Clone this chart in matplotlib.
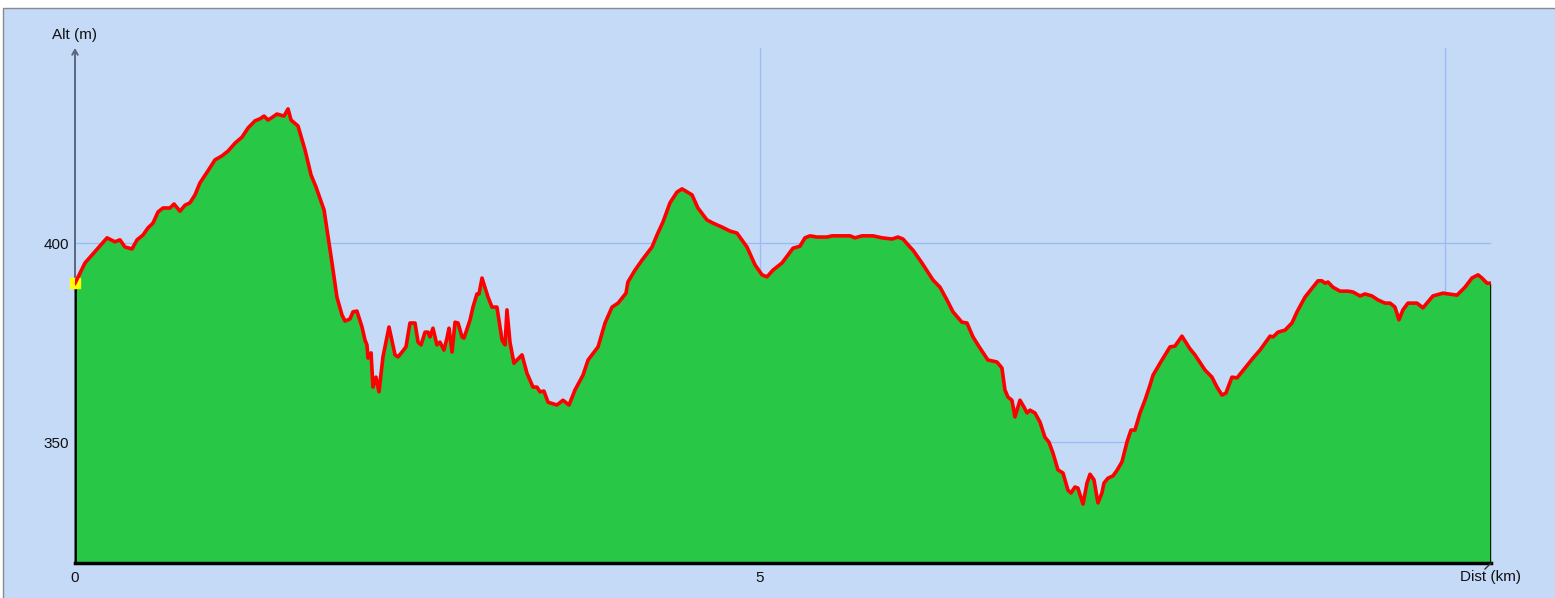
import numpy as np
import matplotlib
matplotlib.use("Agg")
import matplotlib.pyplot as plt
from matplotlib.patches import Rectangle
from matplotlib.lines import Line2D

plt.rcParams["font.family"] = ["Liberation Sans", "DejaVu Sans"]

# ── Elevation profile (distance in km, altitude in m) ───────────────────────
dist_km = [
    0.000, 0.073, 0.234, 0.292, 0.328, 0.365, 0.416, 0.453, 0.496, 0.533,
    0.569, 0.606, 0.642, 0.693, 0.723, 0.766, 0.803, 0.839, 0.876, 0.912,
    0.964, 1.022, 1.073, 1.117, 1.168, 1.219, 1.263, 1.314, 1.350, 1.380,
    1.409, 1.445, 1.474, 1.526, 1.555, 1.577, 1.628, 1.679, 1.723, 1.759,
    1.818, 1.876, 1.912, 1.949, 1.971, 2.007, 2.029, 2.058, 2.095, 2.117,
    2.131, 2.139, 2.161, 2.175, 2.197, 2.219, 2.248, 2.292, 2.336, 2.358,
    2.387, 2.416, 2.445, 2.482, 2.504, 2.526, 2.555, 2.577, 2.591, 2.613,
    2.642, 2.664, 2.693, 2.715, 2.730, 2.752, 2.774, 2.796, 2.825, 2.839,
    2.883, 2.905, 2.934, 2.949, 2.971, 3.015, 3.044, 3.080, 3.117, 3.139,
    3.153, 3.175, 3.204, 3.263, 3.299, 3.343, 3.372, 3.394, 3.423, 3.453,
    3.518, 3.562, 3.606, 3.650, 3.708, 3.745, 3.818, 3.869, 3.920, 3.964,
    4.022, 4.036, 4.088, 4.139, 4.212, 4.248, 4.292, 4.343, 4.394, 4.431,
    4.504, 4.547, 4.613, 4.657, 4.723, 4.781, 4.832, 4.905, 4.964, 5.015,
    5.051, 5.095, 5.161, 5.204, 5.241, 5.292, 5.328, 5.365, 5.416, 5.489,
    5.526, 5.657, 5.693, 5.745, 5.825, 5.891, 5.964, 6.007, 6.044, 6.095,
    6.117, 6.182, 6.263, 6.314, 6.365, 6.409, 6.474, 6.511, 6.555, 6.606,
    6.664, 6.730, 6.766, 6.788, 6.810, 6.839, 6.861, 6.898, 6.927, 6.949,
    6.971, 7.007, 7.044, 7.080, 7.109, 7.139, 7.175, 7.212, 7.248, 7.270,
    7.299, 7.321, 7.358, 7.387, 7.409, 7.438, 7.467, 7.496, 7.511, 7.540,
    7.577, 7.606, 7.642, 7.679, 7.708, 7.737, 7.774, 7.810, 7.847, 7.869,
    7.934, 7.993, 8.029, 8.080, 8.139, 8.175, 8.248, 8.299, 8.336, 8.372,
    8.401, 8.445, 8.482, 8.540, 8.599, 8.650, 8.723, 8.745, 8.781, 8.832,
    8.883, 8.920, 8.978, 9.036, 9.073, 9.102, 9.124, 9.146, 9.182, 9.234,
    9.292, 9.328, 9.380, 9.416, 9.467, 9.511, 9.562, 9.599, 9.635, 9.664,
    9.693, 9.730, 9.796, 9.839, 9.876, 9.912, 9.985, 10.088, 10.146, 10.197,
    10.241, 10.270, 10.307, 10.336,
]
alt_m = [
    389.9, 395.0, 401.3, 400.3, 400.8, 399.0, 398.5, 400.8, 402.0, 403.8,
    405.0, 407.8, 408.8, 408.8, 409.8, 408.0, 409.5, 410.1, 412.1, 415.1,
    417.8, 420.9, 421.9, 423.1, 425.1, 426.6, 428.9, 430.7, 431.2, 431.9,
    430.9, 431.7, 432.4, 431.9, 433.7, 430.9, 429.4, 423.4, 417.1, 414.1,
    408.3, 395.0, 386.4, 381.9, 380.4, 380.9, 382.7, 382.9, 378.9, 375.6,
    374.4, 371.1, 372.4, 363.8, 366.3, 362.6, 371.4, 378.9, 371.9, 371.4,
    372.6, 373.9, 379.9, 379.9, 375.1, 374.4, 377.6, 377.6, 376.4, 378.6,
    374.4, 375.1, 373.1, 376.1, 378.6, 372.6, 380.1, 379.9, 376.4, 376.1,
    380.6, 383.9, 387.2, 387.2, 391.2, 386.4, 383.9, 383.9, 375.6, 374.4,
    383.2, 375.1, 369.8, 371.9, 367.3, 363.8, 363.8, 362.6, 362.8, 360.0,
    359.3, 360.5, 359.3, 363.1, 366.8, 370.6, 373.9, 379.9, 383.9, 384.9,
    387.4, 390.2, 393.2, 395.7, 399.0, 402.0, 405.3, 410.1, 412.8, 413.6,
    412.1, 408.8, 405.8, 405.0, 404.0, 403.0, 402.5, 399.0, 394.5, 392.0,
    391.5, 393.2, 395.0, 397.0, 398.7, 399.2, 401.3, 401.8, 401.5, 401.5,
    401.8, 401.8, 401.3, 401.8, 401.8, 401.3, 401.0, 401.5, 401.0, 399.0,
    398.2, 395.0, 390.7, 388.9, 385.7, 382.7, 380.1, 379.9, 376.4, 373.6,
    370.6, 370.1, 368.6, 363.1, 361.3, 360.5, 356.3, 360.5, 358.8, 357.3,
    358.0, 357.3, 355.0, 351.2, 350.0, 347.2, 343.0, 342.2, 337.9, 337.2,
    338.7, 338.4, 334.4, 339.7, 341.9, 340.5, 334.7, 337.2, 339.7, 340.9,
    341.5, 342.9, 345.0, 350.0, 353.0, 353.0, 357.3, 360.5, 364.3, 366.8,
    370.6, 373.9, 374.1, 376.6, 373.4, 371.9, 368.1, 366.3, 363.8, 361.8,
    362.3, 366.3, 366.1, 368.6, 371.1, 373.1, 376.6, 376.4, 377.6, 378.1,
    379.9, 382.7, 386.4, 388.9, 390.5, 390.5, 389.9, 390.2, 388.9, 387.9,
    387.9, 387.7, 386.7, 387.2, 386.7, 385.7, 384.9, 384.9, 383.9, 380.7,
    383.2, 384.9, 384.9, 383.7, 385.2, 386.7, 387.4, 386.9, 388.9, 391.2,
    392.0, 391.2, 389.9, 389.9,
]

x_ticks = [0, 5]
y_ticks = [350, 400]
x_grid = [5, 10]
y_grid = [350, 400]

BG = "#C4DAF7"
GRID = "#9DB9F2"
FILL = "#28C745"

W, H = 1555, 598
fig = plt.figure(figsize=(W / 100, H / 100), dpi=100)
fig.patch.set_facecolor("white")
fig.patches.append(Rectangle((3 / W, -0.01), 1.0, 1 - 8 / H + 0.01,
                             transform=fig.transFigure, facecolor=BG,
                             edgecolor="#8A8A8A", linewidth=1.0, zorder=-5))

ax = fig.add_axes([75 / W, 35 / H, (1491 - 75) / W, (563 - 48) / H])
ax.set_facecolor("none")
ax.set_zorder(2)

x = np.array(dist_km)
y = np.array(alt_m)
ymin, ymax = 319.6, 449.0
ax.set_xlim(0, x[-1])
ax.set_ylim(ymin, ymax)

for gx in x_grid:
    ax.axvline(gx, color=GRID, lw=0.9, zorder=1)
for gy in y_grid:
    ax.axhline(gy, color=GRID, lw=0.9, zorder=1)

ax.fill_between(x, ymin, y, color=FILL, lw=0, zorder=2)

# start marker (under the profile line)
ax.plot([x[0]], [y[0]], marker="s", ms=7, color="#FFFF00", mec="#FFFF00",
        zorder=3.5, clip_on=False)
ax.plot(x, y, color="#FF0000", lw=2.6, zorder=4, solid_joinstyle="round")

# outline of the filled area
ax.plot([0, 0], [ymin, y[0]], color="black", lw=2, zorder=3)
ax.plot([x[-1], x[-1]], [ymin, y[-1]], color="black", lw=2, zorder=3)
ax.plot([0, x[-1]], [ymin, ymin], color="black", lw=2.5, zorder=3,
        clip_on=False)

for s in ax.spines.values():
    s.set_visible(False)

# y axis with arrow head
ax.annotate("", xy=(0, 1.0), xytext=(0, 0), xycoords="axes fraction",
            arrowprops=dict(arrowstyle="->,head_length=0.35,head_width=0.2",
                            color="#5A6680", lw=1.4, shrinkA=0, shrinkB=0),
            zorder=1)

fig.lines.append(Line2D([1485 / W, 1491 / W], [(H - 569) / H, (H - 563) / H],
                        transform=fig.transFigure, color="#333333", lw=1))

ax.set_xticks(x_ticks)
ax.set_xticklabels([str(t) for t in x_ticks])
ax.set_yticks(y_ticks)
ax.set_yticklabels([str(t) for t in y_ticks])
ax.tick_params(length=0, labelsize=11, colors="#111111")
ax.tick_params(axis="x", pad=6)
ax.tick_params(axis="y", pad=4)

ax.text(0, 1.012, "Alt (m)", transform=ax.transAxes, ha="center",
        va="bottom", fontsize=11, color="#111111")
ax.text(1.0, -0.013, "Dist (km)", transform=ax.transAxes, ha="center",
        va="top", fontsize=11, color="#111111")

fig.savefig("out.png", dpi=100)
